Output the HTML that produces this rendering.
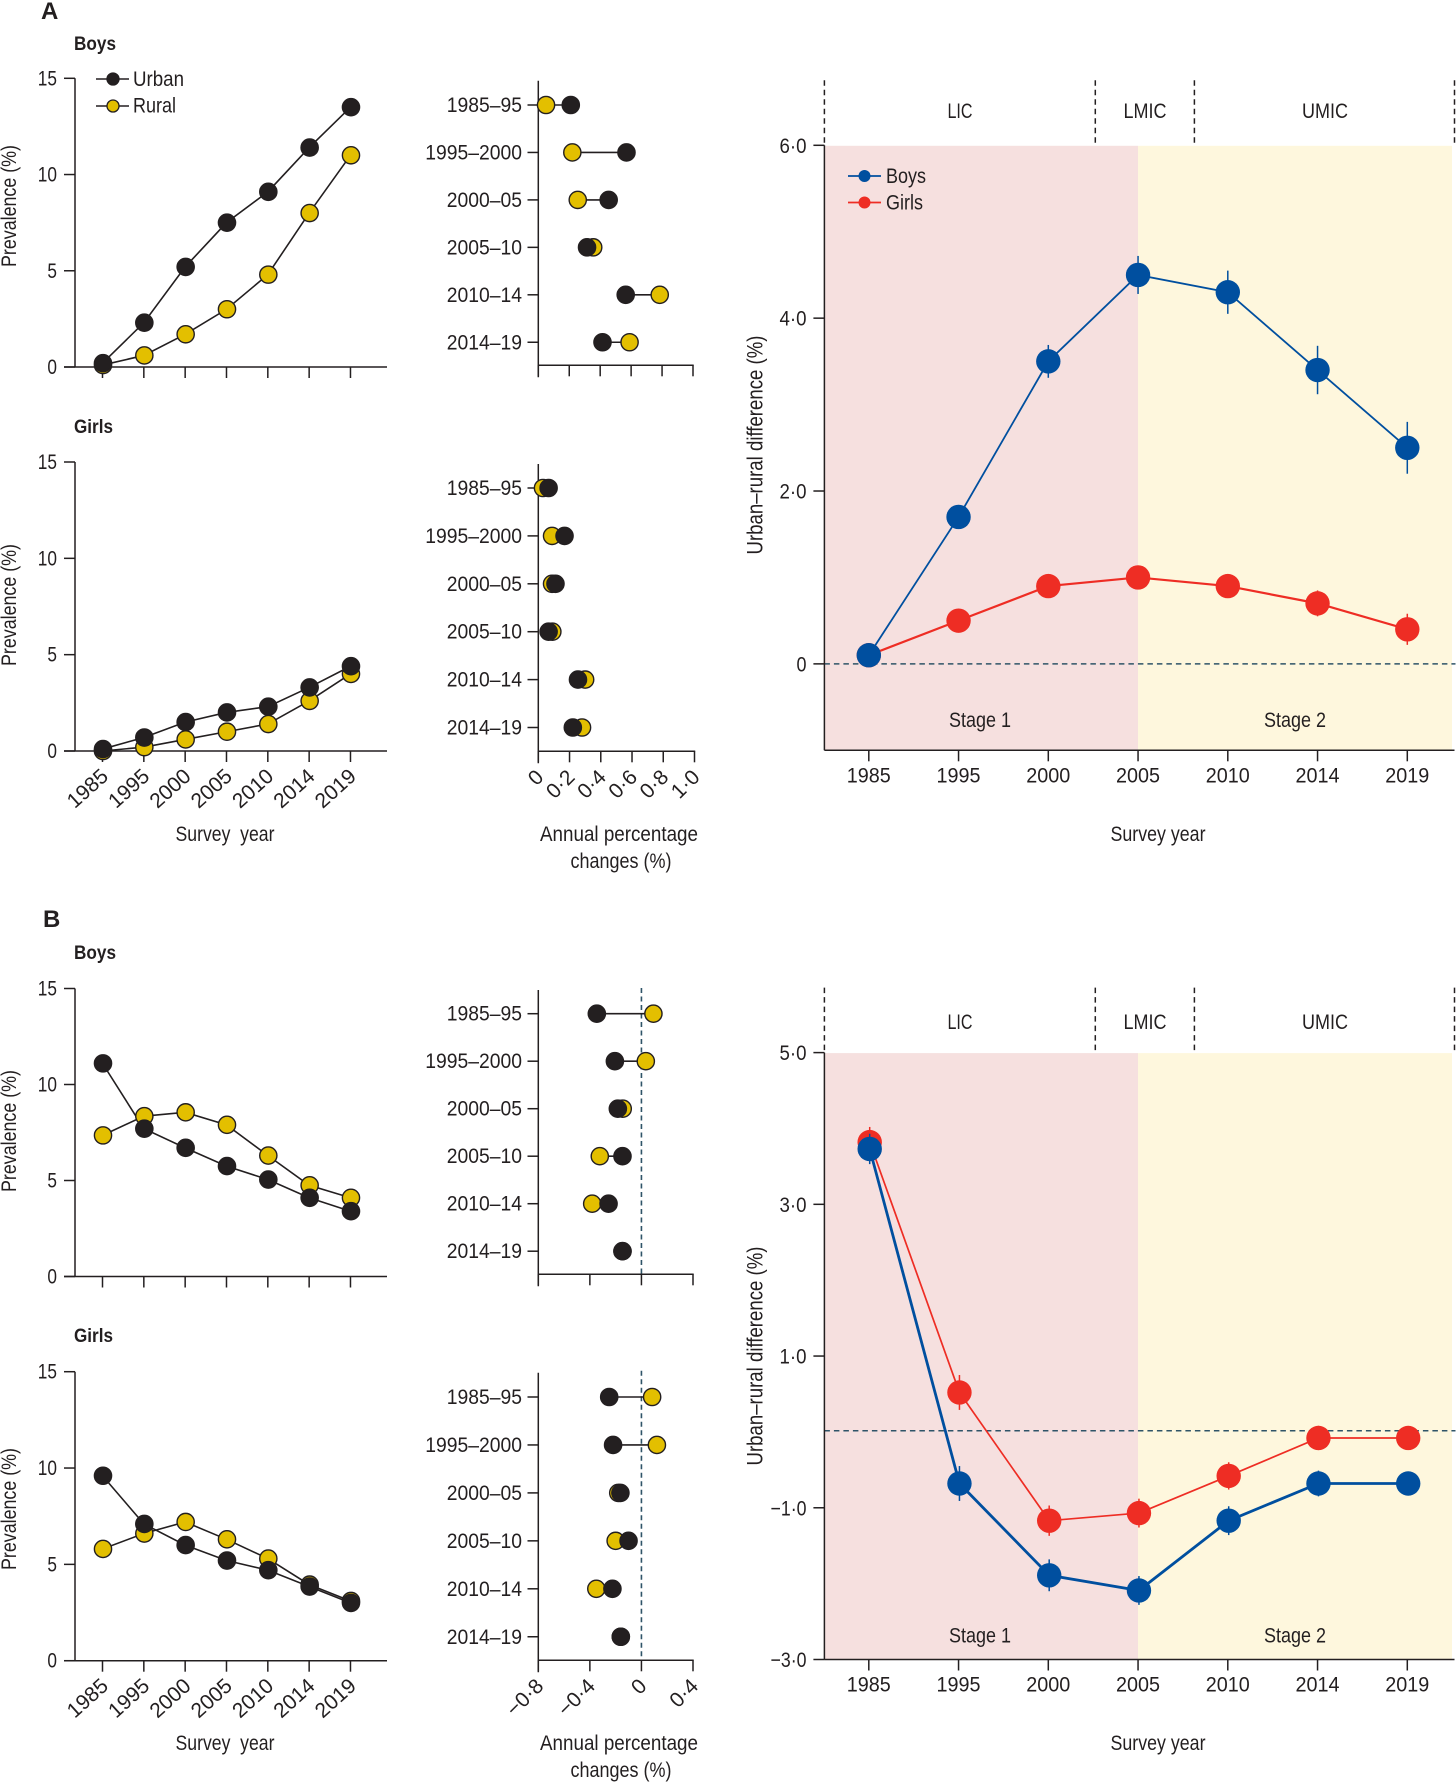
<!DOCTYPE html>
<html lang="en">
<head>
<meta charset="utf-8">
<title>Urban-rural prevalence trends</title>
<style>
html,body{margin:0;padding:0;background:#fff;}
svg{display:block;}
text{font-family:"Liberation Sans",sans-serif;fill:#231f20;font-size:21px;}
.bold{font-weight:700;}
</style>
</head>
<body>
<svg id="figure" xmlns="http://www.w3.org/2000/svg" width="1456" height="1782" viewBox="0 0 1456 1782">
  <rect width="1456" height="1782" fill="#ffffff"/>
  <text class="bold" x="41" y="19" style="font-size:24px">A</text>
  <text class="bold" x="43" y="927" style="font-size:24px">B</text>
  <text class="bold" x="74" y="50" style="font-size:19px" textLength="42" lengthAdjust="spacingAndGlyphs">Boys</text>
  <text class="bold" x="74" y="433" style="font-size:19px" textLength="39" lengthAdjust="spacingAndGlyphs">Girls</text>
  <text class="bold" x="74" y="959" style="font-size:19px" textLength="42" lengthAdjust="spacingAndGlyphs">Boys</text>
  <text class="bold" x="74" y="1342" style="font-size:19px" textLength="39" lengthAdjust="spacingAndGlyphs">Girls</text>

  <text transform="translate(16,206) rotate(-90)" text-anchor="middle" textLength="122" lengthAdjust="spacingAndGlyphs">Prevalence (%)</text>
  <text transform="translate(16,605) rotate(-90)" text-anchor="middle" textLength="122" lengthAdjust="spacingAndGlyphs">Prevalence (%)</text>
  <text transform="translate(16,1131) rotate(-90)" text-anchor="middle" textLength="122" lengthAdjust="spacingAndGlyphs">Prevalence (%)</text>
  <text transform="translate(16,1509) rotate(-90)" text-anchor="middle" textLength="122" lengthAdjust="spacingAndGlyphs">Prevalence (%)</text>

  <text x="225" y="841" text-anchor="middle" textLength="99" lengthAdjust="spacingAndGlyphs" xml:space="preserve">Survey  year</text>
  <text x="225" y="1750" text-anchor="middle" textLength="99" lengthAdjust="spacingAndGlyphs" xml:space="preserve">Survey  year</text>

  <text x="619" y="841" text-anchor="middle" textLength="158" lengthAdjust="spacingAndGlyphs">Annual percentage</text>
  <text x="621" y="868" text-anchor="middle" textLength="101" lengthAdjust="spacingAndGlyphs">changes (%)</text>
  <text x="619" y="1750" text-anchor="middle" textLength="158" lengthAdjust="spacingAndGlyphs">Annual percentage</text>
  <text x="621" y="1777" text-anchor="middle" textLength="101" lengthAdjust="spacingAndGlyphs">changes (%)</text>

  <text transform="translate(762.5,445) rotate(-90)" text-anchor="middle" style="font-size:22px" textLength="219" lengthAdjust="spacingAndGlyphs">Urban–rural difference (%)</text>
  <text transform="translate(762.5,1356) rotate(-90)" text-anchor="middle" style="font-size:22px" textLength="219" lengthAdjust="spacingAndGlyphs">Urban–rural difference (%)</text>
  <text x="1158" y="841" text-anchor="middle" textLength="95" lengthAdjust="spacingAndGlyphs">Survey year</text>
  <text x="1158" y="1750" text-anchor="middle" textLength="95" lengthAdjust="spacingAndGlyphs">Survey year</text>

  <g>
    <line x1="96" x2="129" y1="79" y2="79" stroke="#231f20" stroke-width="1.6"/>
    <circle cx="113" cy="79" r="6" fill="#231f20" stroke="#231f20" stroke-width="1.3"/>
    <text x="133" y="86" textLength="51" lengthAdjust="spacingAndGlyphs">Urban</text>
    <line x1="96" x2="129" y1="106" y2="106" stroke="#231f20" stroke-width="1.6"/>
    <circle cx="113" cy="106" r="6" fill="#e3bf00" stroke="#231f20" stroke-width="1.3"/>
    <text x="133" y="112.5" textLength="43" lengthAdjust="spacingAndGlyphs">Rural</text>
  </g>
  <g id="charts"></g>
  <g>
    <line x1="848" x2="881" y1="176" y2="176" stroke="#004f9f" stroke-width="1.7"/>
    <circle cx="864.500" cy="176" r="6" fill="#004f9f"/>
    <text x="886" y="183" textLength="40" lengthAdjust="spacingAndGlyphs">Boys</text>
    <line x1="848" x2="881" y1="202.500" y2="202.500" stroke="#ee2d24" stroke-width="1.7"/>
    <circle cx="864.500" cy="202.500" r="6" fill="#ee2d24"/>
    <text x="886" y="209.500" textLength="37" lengthAdjust="spacingAndGlyphs">Girls</text>
  </g>
</svg>

<script>
/* ---------- shared categories and tick labels ---------- */
const surveyYears = ['1985', '1995', '2000', '2005', '2010', '2014', '2019'];
const surveyPeriods = ['1985–95', '1995–2000', '2000–05', '2005–10', '2010–14', '2014–19'];
const prevalenceTicks = [0, 5, 10, 15];

/* ---------- panel A: prevalence ---------- */
const aBoysUrban = [0.2, 2.3, 5.2, 7.5, 9.1, 11.4, 13.5];
const aBoysRural = [0.1, 0.6, 1.7, 3.0, 4.8, 8.0, 11.0];
const aGirlsUrban = [0.1, 0.7, 1.5, 2.0, 2.3, 3.3, 4.4];
const aGirlsRural = [0.0, 0.2, 0.6, 1.0, 1.4, 2.6, 4.0];

/* ---------- panel B: prevalence ---------- */
const bBoysUrban = [11.1, 7.7, 6.7, 5.75, 5.05, 4.1, 3.4];
const bBoysRural = [7.35, 8.35, 8.55, 7.9, 6.3, 4.75, 4.1];
const bGirlsUrban = [9.6, 7.1, 6.0, 5.2, 4.7, 3.85, 3.0];
const bGirlsRural = [5.8, 6.6, 7.2, 6.3, 5.3, 3.95, 3.1];

/* ---------- panel A: annual percentage change ---------- */
const aChangeTicks = [0, 0.2, 0.4, 0.6, 0.8, 1.0];
const aChangeTickLabels = ['0', '0·2', '0·4', '0·6', '0·8', '1·0'];
const aBoysChangeUrban = [0.21, 0.57, 0.455, 0.315, 0.565, 0.415];
const aBoysChangeRural = [0.05, 0.22, 0.255, 0.355, 0.785, 0.59];
const aGirlsChangeUrban = [0.066, 0.168, 0.11, 0.066, 0.254, 0.221];
const aGirlsChangeRural = [0.03, 0.088, 0.088, 0.09, 0.30, 0.28];

/* ---------- panel B: annual percentage change ---------- */
const bChangeTicks = [-0.8, -0.4, 0, 0.4];
const bChangeTickLabels = ['−0·8', '−0·4', '0', '0·4'];
const bBoysChangeUrban = [-0.346, -0.206, -0.183, -0.147, -0.255, -0.147];
const bBoysChangeRural = [0.093, 0.034, -0.145, -0.323, -0.382, -0.147];
const bGirlsChangeUrban = [-0.25, -0.22, -0.163, -0.10, -0.225, -0.16];
const bGirlsChangeRural = [0.083, 0.12, -0.18, -0.20, -0.35, -0.16];

/* ---------- urban-rural difference ---------- */
const aDiffTicks = [6, 4, 2, 0];
const aDiffTickLabels = ['6·0', '4·0', '2·0', '0'];
const aDiffBoys = [0.1, 1.7, 3.5, 4.5, 4.3, 3.4, 2.5];
const aDiffGirls = [0.1, 0.5, 0.9, 1.0, 0.9, 0.7, 0.4];
const aDiffBoysError = [0.05, 0.1, 0.19, 0.22, 0.25, 0.28, 0.3];
const aDiffGirlsError = [0.05, 0.08, 0.08, 0.08, 0.1, 0.15, 0.18];

const bDiffTicks = [5, 3, 1, -1, -3];
const bDiffTickLabels = ['5·0', '3·0', '1·0', '−1·0', '−3·0'];
const bDiffBoys = [3.73, -0.68, -1.89, -2.09, -1.17, -0.68, -0.68];
const bDiffGirls = [3.82, 0.52, -1.17, -1.07, -0.58, -0.08, -0.08];
const bDiffBoysError = [0.2, 0.23, 0.21, 0.19, 0.19, 0.17, 0.15];
const bDiffGirlsError = [0.2, 0.23, 0.2, 0.19, 0.18, 0.16, 0.15];

const incomeBandLabels = ['LIC', 'LMIC', 'UMIC'];
const stageLabels = ['Stage 1', 'Stage 2'];

/* ---------- drawing ---------- */
const INK = '#231f20';
const GOLD = '#e3bf00';
const BLUE = '#004f9f';
const RED = '#ee2d24';
const DASH = '#2f5468';
const SVG_NS = 'http://www.w3.org/2000/svg';
const root = document.getElementById('charts');

function el(parent, tag, attrs, text) {
  const node = document.createElementNS(SVG_NS, tag);
  Object.keys(attrs).forEach(function (k) { node.setAttribute(k, attrs[k]); });
  if (text !== undefined) node.textContent = text;
  parent.appendChild(node);
  return node;
}
function linear(d0, d1, r0, r1) {
  return function (v) { return r0 + (v - d0) * (r1 - r0) / (d1 - d0); };
}

function drawPrevalence(id, top, bottom, urban, rural, showYearLabels) {
  const g = el(root, 'g', {});
  
  
  const y = linear(0, 15, bottom, top);
  const x = function (i) { return 102.5 + i * 41.33; };

  const yAxis = el(g, 'line', { x1: 75, x2: 75, y1: top, y2: bottom, stroke: INK, 'stroke-width': 1.5 });
  
  
  const xAxis = el(g, 'line', { x1: 64, x2: 387, y1: bottom, y2: bottom, stroke: INK, 'stroke-width': 1.5 });
  
  

  prevalenceTicks.forEach(function (t) {
    const tick = el(g, 'line', { x1: 64, x2: 75, y1: y(t), y2: y(t), stroke: INK, 'stroke-width': 1.5 });
    
    
    const s = String(t);
    const label = el(g, 'text', { x: 57, y: y(t) + 7, 'text-anchor': 'end', textLength: s.length * 9.6, lengthAdjust: 'spacingAndGlyphs' }, s);
    
    
  });
  surveyYears.forEach(function (yr, i) {
    const tick = el(g, 'line', { x1: x(i), x2: x(i), y1: bottom, y2: bottom + 11, stroke: INK, 'stroke-width': 1.5 });
    
    
    if (showYearLabels) {
      const label = el(g, 'text', { 'text-anchor': 'end', transform: 'translate(' + (x(i) + 7) + ',' + (bottom + 27) + ') rotate(-42)' }, yr);
      
      
    }
  });

  const ruralLine = el(g, 'polyline', { points: rural.map(function (v, i) { return x(i) + ',' + y(v); }).join(' '), fill: 'none', stroke: INK, 'stroke-width': 1.6 });
  
  
  const urbanLine = el(g, 'polyline', { points: urban.map(function (v, i) { return x(i) + ',' + y(v); }).join(' '), fill: 'none', stroke: INK, 'stroke-width': 1.6 });
  
  

  rural.forEach(function (v, i) {
    const dot = el(g, 'circle', { cx: x(i) + 0.5, cy: y(v), r: 8.6, fill: GOLD, stroke: INK, 'stroke-width': 1.4 });
    
    
  });
  urban.forEach(function (v, i) {
    const dot = el(g, 'circle', { cx: x(i) + 0.5, cy: y(v), r: 8.6, fill: INK, stroke: INK, 'stroke-width': 1.4 });
    
    
  });
}

function drawChange(id, top, bottom, rowFirst, rowStep, dMin, dMax, rightX, ticks, tickLabels, urban, rural, showZero, showTickLabels) {
  const g = el(root, 'g', {});
  
  
  const leftX = 538.3;
  const x = linear(dMin, dMax, leftX, rightX);
  const row = function (i) { return rowFirst + i * rowStep; };

  if (showZero) {
    const zero = el(g, 'line', { x1: x(0), x2: x(0), y1: top - 2, y2: bottom, stroke: DASH, 'stroke-width': 1.6, 'stroke-dasharray': '5 3.500' });
    
    
  }
  const yAxis = el(g, 'line', { x1: leftX, x2: leftX, y1: top, y2: bottom + 12, stroke: INK, 'stroke-width': 1.5 });
  
  
  const xAxis = el(g, 'line', { x1: leftX, x2: rightX + 0.7, y1: bottom, y2: bottom, stroke: INK, 'stroke-width': 1.5 });
  
  

  ticks.forEach(function (t, i) {
    const tick = el(g, 'line', { x1: x(t), x2: x(t), y1: bottom, y2: bottom + 11, stroke: INK, 'stroke-width': 1.5 });
    
    
    if (showTickLabels) {
      const label = el(g, 'text', { 'text-anchor': 'end', transform: 'translate(' + (x(t) + 6.5) + ',' + (bottom + 27) + ') rotate(-45)' }, tickLabels[i]);
      
      
    }
  });
  surveyPeriods.forEach(function (p, i) {
    const tick = el(g, 'line', { x1: 527.5, x2: leftX, y1: row(i), y2: row(i), stroke: INK, 'stroke-width': 1.5 });
    
    
    const label = el(g, 'text', { x: 522, y: row(i) + 7, 'text-anchor': 'end', textLength: p.length * 10.75, lengthAdjust: 'spacingAndGlyphs' }, p);
    
    

    const link = el(g, 'line', { x1: x(urban[i]), x2: x(rural[i]), y1: row(i), y2: row(i), stroke: INK, 'stroke-width': 1.6 });
    
    
    const ruralDot = el(g, 'circle', { cx: x(rural[i]), cy: row(i), r: 8.6, fill: GOLD, stroke: INK, 'stroke-width': 1.4 });
    
    
    const urbanDot = el(g, 'circle', { cx: x(urban[i]), cy: row(i), r: 8.6, fill: INK, stroke: INK, 'stroke-width': 1.4 });
    
    
  });
}

function drawDifference(id, top, bottom, dMax, dMin, zeroShift, ticks, tickLabels, boys, girls, boysErr, girlsErr, boysWidth, girlsWidth, pointShift, stageY, bandLabelY) {
  const g = el(root, 'g', {});
  
  
  const y = linear(dMax, dMin, top, bottom);
  const x = function (i) { return 868.8 + i * 89.75; };
  const left = 824.4;
  const split = 1138;
  const right = 1452;
  const axisEnd = 1454.5;

  const stage1 = el(g, 'rect', { x: left, y: top + 0.5, width: split - left, height: bottom - top - 0.5, fill: '#f6e0df' });
  
  
  const stage2 = el(g, 'rect', { x: split, y: top + 0.5, width: right - split, height: bottom - top - 0.5, fill: '#fef7dd' });
  
  

  [left, 1095.3, 1194.4, axisEnd].forEach(function (bx) {
    const divider = el(g, 'line', { x1: bx, x2: bx, y1: top - 65, y2: top - 2, stroke: INK, 'stroke-width': 1.5, 'stroke-dasharray': '5.500 4' });
    
    
  });
  [960, 1145, 1325].forEach(function (cx, i) {
    const band = el(g, 'text', { x: cx, y: bandLabelY, 'text-anchor': 'middle', textLength: [25, 43, 46][i], lengthAdjust: 'spacingAndGlyphs' }, incomeBandLabels[i]);
    
    
  });
  [980, 1295].forEach(function (cx, i) {
    const stage = el(g, 'text', { x: cx, y: stageY, 'text-anchor': 'middle', textLength: 62, lengthAdjust: 'spacingAndGlyphs' }, stageLabels[i]);
    
    
  });

  const zero = el(g, 'line', { x1: left, x2: axisEnd + 1, y1: y(0) + zeroShift, y2: y(0) + zeroShift, stroke: DASH, 'stroke-width': 1.5, 'stroke-dasharray': '5.500 4' });
  
  

  const yAxis = el(g, 'line', { x1: left, x2: left, y1: top, y2: bottom, stroke: INK, 'stroke-width': 1.5 });
  
  
  const xAxis = el(g, 'line', { x1: left, x2: axisEnd, y1: bottom, y2: bottom, stroke: INK, 'stroke-width': 1.5 });
  
  

  ticks.forEach(function (t, i) {
    const tick = el(g, 'line', { x1: left - 11, x2: left, y1: y(t), y2: y(t), stroke: INK, 'stroke-width': 1.5 });
    
    
    const lab = tickLabels[i];
    const label = el(g, 'text', { x: 806.5, y: y(t) + 7.5, 'text-anchor': 'end', textLength: lab.length === 1 ? 10 : lab.length * 9, lengthAdjust: 'spacingAndGlyphs' }, lab);
    
    
  });
  surveyYears.forEach(function (yr, i) {
    const tick = el(g, 'line', { x1: x(i), x2: x(i), y1: bottom, y2: bottom + 11, stroke: INK, 'stroke-width': 1.5 });
    
    
    const label = el(g, 'text', { x: x(i), y: bottom + 32, 'text-anchor': 'middle', textLength: 44, lengthAdjust: 'spacingAndGlyphs' }, yr);
    
    
  });

  const girlsLine = el(g, 'polyline', { points: girls.map(function (v, i) { return (x(i) + pointShift) + ',' + y(v); }).join(' '), fill: 'none', stroke: RED, 'stroke-width': girlsWidth });
  
  
  girls.forEach(function (v, i) {
    const bar = el(g, 'line', { x1: x(i) + pointShift, x2: x(i) + pointShift, y1: y(v + girlsErr[i]), y2: y(v - girlsErr[i]), stroke: RED, 'stroke-width': 1.5 });
    
    
    const dot = el(g, 'circle', { cx: x(i) + pointShift, cy: y(v), r: 12.2, fill: RED });
    
    
  });

  const boysLine = el(g, 'polyline', { points: boys.map(function (v, i) { return (x(i) + pointShift) + ',' + y(v); }).join(' '), fill: 'none', stroke: BLUE, 'stroke-width': boysWidth });
  
  
  boys.forEach(function (v, i) {
    const bar = el(g, 'line', { x1: x(i) + pointShift, x2: x(i) + pointShift, y1: y(v + boysErr[i]), y2: y(v - boysErr[i]), stroke: BLUE, 'stroke-width': 1.5 });
    
    
    const dot = el(g, 'circle', { cx: x(i) + pointShift, cy: y(v), r: 12.2, fill: BLUE });
    
    
  });
}

drawPrevalence('a-boys', 78.3, 367, aBoysUrban, aBoysRural, false);
drawPrevalence('a-girls', 462, 751, aGirlsUrban, aGirlsRural, true);
drawPrevalence('b-boys', 988.5, 1276.5, bBoysUrban, bBoysRural, false);
drawPrevalence('b-girls', 1371.7, 1660.7, bGirlsUrban, bGirlsRural, true);

drawChange('a-boys', 80.7, 365.3, 105, 47.45, 0, 1, 693, aChangeTicks, aChangeTickLabels, aBoysChangeUrban, aBoysChangeRural, false, false);
drawChange('a-girls', 464, 751.3, 488, 47.9, 0, 1, 694.5, aChangeTicks, aChangeTickLabels, aGirlsChangeUrban, aGirlsChangeRural, false, true);
drawChange('b-boys', 990, 1274.3, 1013.7, 47.5, -0.8, 0.4, 693, bChangeTicks, bChangeTickLabels, bBoysChangeUrban, bBoysChangeRural, true, false);
drawChange('b-girls', 1372.7, 1660.3, 1397, 47.95, -0.8, 0.4, 693, bChangeTicks, bChangeTickLabels, bGirlsChangeUrban, bGirlsChangeRural, true, true);

drawDifference('a', 145.3, 750.3, 6, -1, 0, aDiffTicks, aDiffTickLabels, aDiffBoys, aDiffGirls, aDiffBoysError, aDiffGirlsError, 1.8, 2.2, 0, 727, 118);
drawDifference('b', 1052.6, 1659.5, 5, -3, -1.2, bDiffTicks, bDiffTickLabels, bDiffBoys, bDiffGirls, bDiffBoysError, bDiffGirlsError, 2.8, 1.7, 0.9, 1642.5, 1029);
</script>
</body>
</html>
